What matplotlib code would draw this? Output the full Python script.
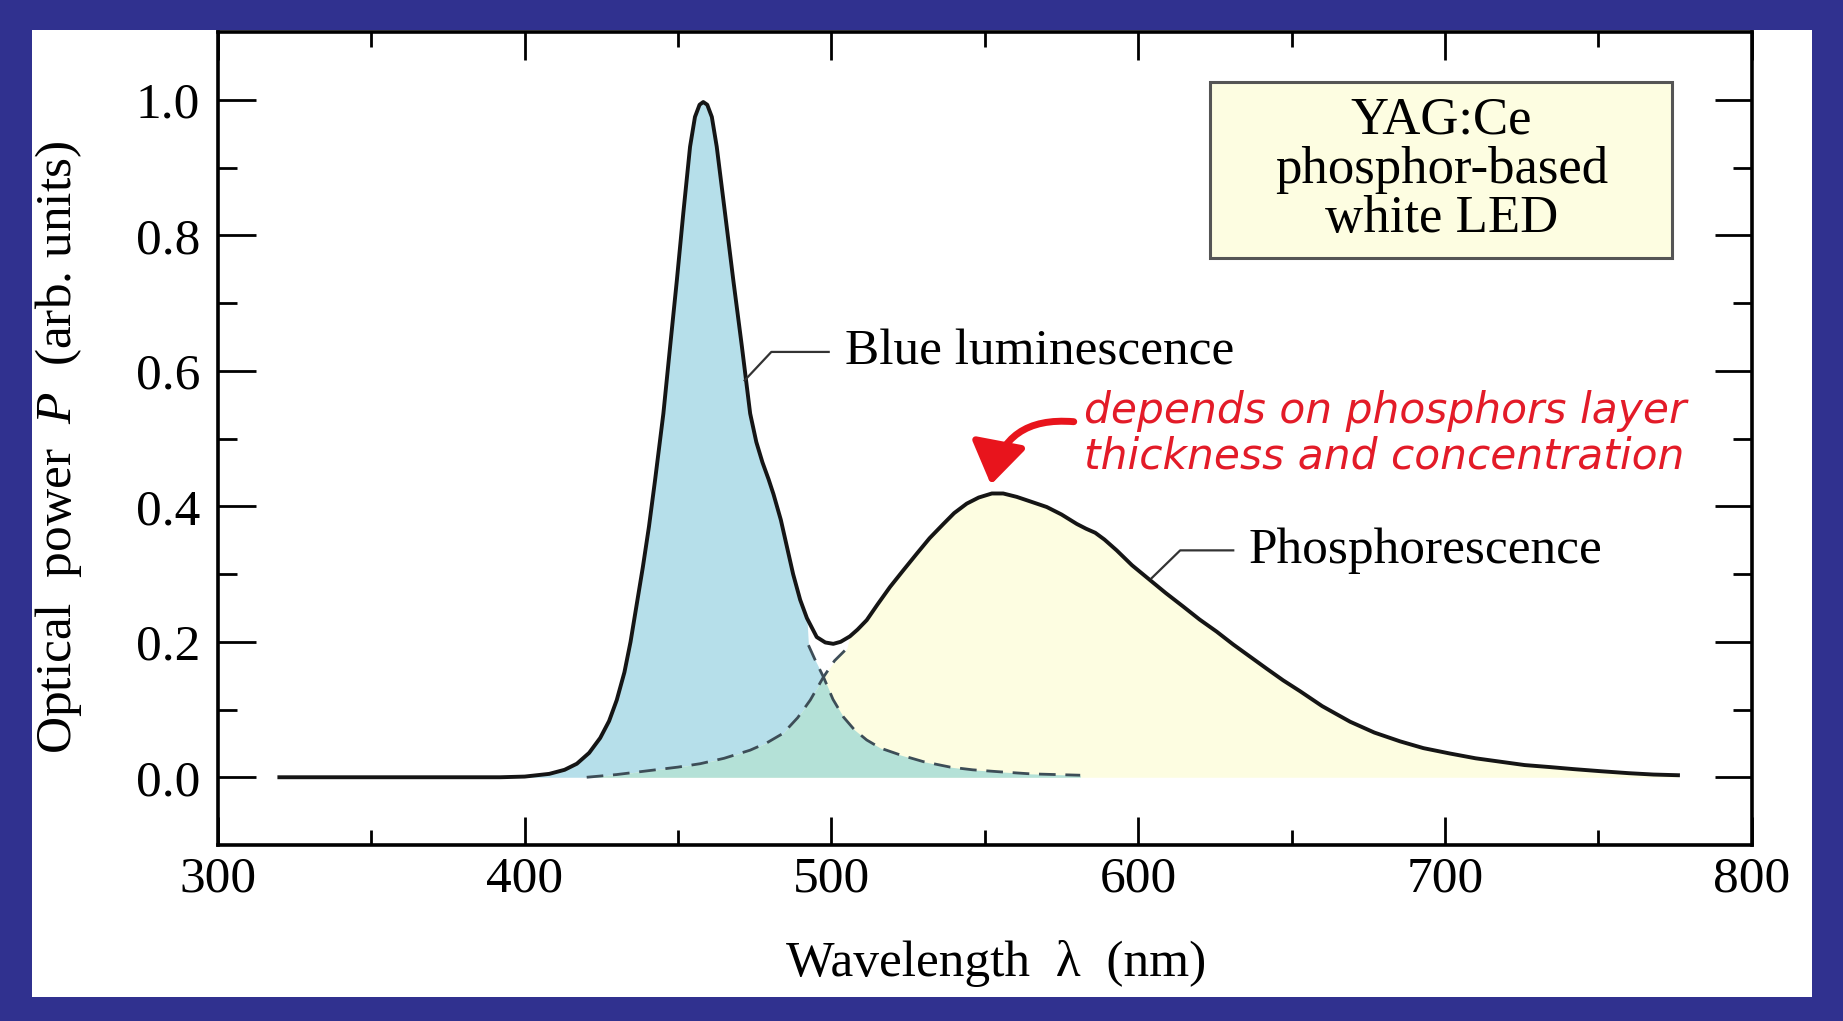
import numpy as np
import matplotlib.pyplot as plt
from matplotlib.patches import Rectangle, FancyArrowPatch

plt.rcParams['font.family'] = ['Liberation Serif', 'DejaVu Serif']
plt.rcParams['mathtext.fontset'] = 'custom'
plt.rcParams['mathtext.rm'] = 'Liberation Serif'
plt.rcParams['mathtext.it'] = 'Liberation Serif:italic'

# total emission spectrum (solid curve)
wl_total = [320, 350, 380, 392, 400, 408, 413, 417, 421, 424.6, 427.5, 430, 432.5,
            434.5, 436.5, 438.5, 440.5, 442.5, 445.2, 447.4, 449.6, 451.7, 453.9,
            455.5, 457, 458.2, 459.5, 461, 462.6, 465.3, 468.0, 470.8, 473.5, 475.5,
            477.5, 479.5, 481.1, 483.5, 485.4, 487.5, 489.8, 492, 495.2, 498, 500.6,
            503, 506.0, 508.5, 511.5, 515, 519.1, 523.5, 527.8, 532, 536.5, 540,
            544.1, 548, 552.3, 556, 560.4, 565, 570.2, 575, 580.0, 583, 586, 589,
            593.0, 598, 603.9, 609, 614.7, 620, 625.6, 631, 636.5, 642, 647.3, 652.8,
            660, 669.1, 677, 685.4, 693, 701.7, 710, 718.0, 726, 734.3, 742, 750.6,
            760, 768, 776]
p_total = [0.0, 0.0, 0.0, 0.0, 0.001, 0.005, 0.011, 0.020, 0.036, 0.058, 0.083, 0.114,
           0.155, 0.20, 0.255, 0.31, 0.37, 0.439, 0.537, 0.636, 0.734, 0.833, 0.931,
           0.975, 0.993, 0.997, 0.993, 0.975, 0.931, 0.833, 0.734, 0.636, 0.537, 0.495,
           0.465, 0.44, 0.418, 0.38, 0.342, 0.30, 0.262, 0.235, 0.207, 0.199, 0.197,
           0.200, 0.208, 0.218, 0.232, 0.255, 0.281, 0.306, 0.330, 0.353, 0.374, 0.39,
           0.404, 0.413, 0.419, 0.419, 0.414, 0.407, 0.399, 0.388, 0.374, 0.367, 0.361,
           0.351, 0.335, 0.313, 0.291, 0.272, 0.252, 0.233, 0.215, 0.196, 0.178, 0.16,
           0.143, 0.127, 0.105, 0.082, 0.066, 0.053, 0.043, 0.035, 0.028, 0.023, 0.018,
           0.015, 0.012, 0.009, 0.006, 0.004, 0.003]

# blue LED line hidden under the phosphor band (dashed)
wl_blue_tail = [492.5, 495, 497.4, 500.5, 503.9, 507.5, 511.5, 516, 522.4, 530, 538.7,
                546, 555.0, 565, 573, 581.1]
p_blue_tail = [0.195, 0.17, 0.148, 0.115, 0.089, 0.07, 0.055, 0.043, 0.033, 0.023,
               0.015, 0.011, 0.008, 0.005, 0.004, 0.003]

# phosphor band hidden under the blue line (dashed)
wl_phos_tail = [420.2, 430, 440.9, 450, 457.2, 465, 473.5, 479, 484.3, 489, 493.1,
                497.4, 501, 505.0]
p_phos_tail = [0.0, 0.004, 0.010, 0.015, 0.020, 0.028, 0.040, 0.051, 0.065, 0.088,
               0.114, 0.148, 0.172, 0.19]

x_ticks = [300, 400, 500, 600, 700, 800]
x_minor = [350, 450, 550, 650, 750]
y_ticks = [0.0, 0.2, 0.4, 0.6, 0.8, 1.0]
y_minor = [0.1, 0.3, 0.5, 0.7, 0.9]
y_ticklabels = ['0.0', '0.2', '0.4', '0.6', '0.8', '1.0']

wl_total = np.array(wl_total)
p_total = np.array(p_total)
wl_blue_tail = np.array(wl_blue_tail)
p_blue_tail = np.array(p_blue_tail)
wl_phos_tail = np.array(wl_phos_tail)
p_phos_tail = np.array(p_phos_tail)

# outlines of the coloured regions
m = wl_total <= 492
blue_wl = np.concatenate([wl_total[m], wl_blue_tail])
blue_p = np.concatenate([p_total[m], p_blue_tail])
m = wl_total >= 506
phos_wl = np.concatenate([wl_phos_tail, wl_total[m]])
phos_p = np.concatenate([p_phos_tail, p_total[m]])
m1 = wl_phos_tail <= 497.4
m2 = wl_blue_tail > 497.4
over_wl = np.concatenate([wl_phos_tail[m1], wl_blue_tail[m2]])
over_p = np.concatenate([p_phos_tail[m1], p_blue_tail[m2]])

fig = plt.figure(figsize=(18.43, 10.21), dpi=100)
fig.patch.set_facecolor('#30318f')
fig.add_artist(Rectangle((0.0174, 0.0235), 0.9658, 0.9471, transform=fig.transFigure,
                         facecolor='white', edgecolor='none', zorder=-1))
ax = fig.add_axes([0.1183, 0.1724, 0.8321, 0.7960])

ax.fill_between(blue_wl, 0, blue_p, color='#b6dfea', lw=0, zorder=1)
ax.fill_between(phos_wl, 0, phos_p, color='#fdfde1', lw=0, zorder=1)
ax.fill_between(over_wl, 0, over_p, color='#b4e1d7', lw=0, zorder=2)
ax.plot(wl_blue_tail, p_blue_tail, ls=(0, (6, 3.5)), color='#3d4d57', lw=2, zorder=3)
ax.plot(wl_phos_tail, p_phos_tail, ls=(0, (6, 3.5)), color='#3d4d57', lw=2, zorder=3)
ax.plot(wl_total, p_total, color='#151515', lw=2.8, zorder=4)

# labels with leader lines
ax.plot([471.7, 480.4, 499.1], [0.586, 0.628, 0.628], color='#333333', lw=1.6, zorder=4)
ax.text(504.3, 0.628, 'Blue luminescence', fontsize=37, ha='left', va='center')
ax.plot([604.4, 613.7, 631.0], [0.294, 0.335, 0.335], color='#333333', lw=1.6, zorder=4)
ax.text(635.9, 0.335, 'Phosphorescence', fontsize=37, ha='left', va='center')

# box
ax.add_patch(Rectangle((623.4, 0.766), 150.7, 0.261, facecolor='#fdfde1',
                       edgecolor='#555555', lw=2.2, zorder=5))
ax.text(698.8, 0.897, 'YAG:Ce\nphosphor-based\nwhite LED', fontsize=38,
        ha='center', va='center', linespacing=1.03, zorder=6)

# red note and arrow
ax.text(582.3, 0.507, 'depends on phosphors layer\nthickness and concentration',
        family='DejaVu Sans', style='italic', color='#e31b28', fontsize=30.5,
        ha='left', va='center', linespacing=1.1)
ax.add_patch(FancyArrowPatch((579, 0.525), (552, 0.432), connectionstyle='arc3,rad=0.45',
                             arrowstyle='-|>,head_length=0.9,head_width=0.6',
                             mutation_scale=28, lw=5, color='#e8141c',
                             shrinkA=0, shrinkB=0, zorder=6))

ax.set_xlim(300, 800)
ax.set_ylim(-0.1, 1.1)
ax.set_xticks(x_ticks)
ax.set_xticks(x_minor, minor=True)
ax.set_yticks(y_ticks)
ax.set_yticks(y_minor, minor=True)
ax.set_yticklabels(y_ticklabels)

ax.tick_params(axis='y', which='major', direction='in', length=27, width=2,
               left=True, right=True, labelsize=37, pad=13)
ax.tick_params(axis='y', which='minor', direction='in', length=14, width=2,
               left=True, right=True)
ax.tick_params(axis='x', which='major', direction='in', length=20, width=2,
               top=True, bottom=True, labelsize=37, pad=8)
ax.tick_params(axis='x', which='minor', direction='in', length=11, width=2,
               top=True, bottom=True)
for s in ax.spines.values():
    s.set_linewidth(2.6)

ax.text(0.5071, -0.1462, 'Wavelength  λ  (nm)', transform=ax.transAxes,
        ha='center', va='center', fontsize=37)
ax.text(-0.1037, 0.4897, 'Optical  power  $P$  (arb. units)', transform=ax.transAxes,
        rotation=90, ha='center', va='center', fontsize=37)

fig.savefig('out.png', dpi=100, facecolor=fig.get_facecolor())
